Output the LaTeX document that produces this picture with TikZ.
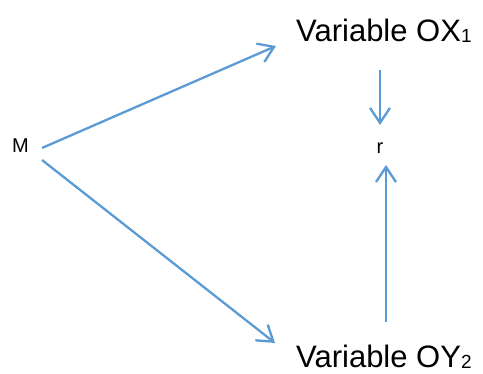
\documentclass[tikz,border=0pt]{standalone}
\usepackage{fontspec}
\setmainfont{Liberation Sans}
\usetikzlibrary{arrows.meta}
\definecolor{lineblue}{RGB}{91,155,213}
\newcommand{\lowsub}[1]{\raisebox{-1pt}{\fontsize{19}{20}\selectfont #1}}

\begin{document}
\begin{tikzpicture}[x=1pt, y=-1pt, every node/.style={inner sep=0pt},
  big/.style={font=\fontsize{31}{36}\selectfont, anchor=base west},
  small/.style={font=\fontsize{20}{24}\selectfont},
  link/.style={draw=lineblue, line width=2.3pt, -{Straight Barb[length=15pt,width=20pt]}}]
\useasboundingbox (0,0) rectangle (483,374);

\node[small, anchor=base west] (M) at (12,153) {M};
\node[small, anchor=base] (r) at (380,154) {r};
\node[big] (OX) at (296,42) {Variable OX\lowsub{1}};
\node[big] (OY) at (296,368) {Variable OY\lowsub{2}};

\coordinate (mtop) at (42,148);
\coordinate (mbot) at (42,160);
\coordinate (oxin) at (276,46);
\coordinate (oyin) at (275,343);
\coordinate (oxout) at (380,70);
\coordinate (rtop) at (380,125);
\coordinate (oyout) at (386,322);
\coordinate (rbot) at (386,165);

\draw[link] (mtop) -- (oxin);
\draw[link] (mbot) -- (oyin);
\draw[link] (oxout) -- (rtop);
\draw[link] (oyout) -- (rbot);
\end{tikzpicture}
\end{document}
